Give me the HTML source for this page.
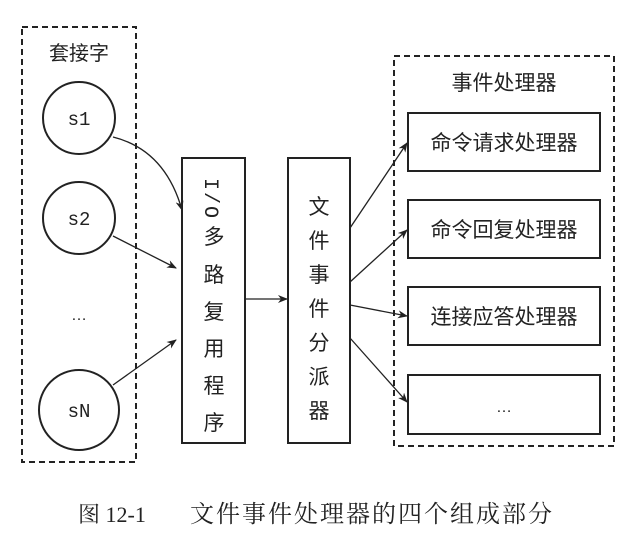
<!DOCTYPE html>
<html><head><style>
body{margin:0;background:#fff;}
svg{display:block}
text{font-family:"Liberation Sans","Noto Sans CJK SC",sans-serif;fill:#222}
.m{font-family:"Liberation Mono",monospace}
.s{font-family:"Liberation Serif","Noto Serif CJK SC",serif}
</style></head><body>
<svg width="636" height="550" viewBox="0 0 636 550">
<defs><marker id="a" markerWidth="10" markerHeight="8" refX="9" refY="4" orient="auto" markerUnits="userSpaceOnUse"><path d="M0,0 L10,4 L0,8 L3,4z" fill="#222"/></marker></defs>
<g fill="none" stroke="#222" stroke-width="2">
<rect x="22" y="27" width="114" height="435" stroke-dasharray="6,4"/>
<rect x="394" y="56" width="220" height="390" stroke-dasharray="6,4"/>
<circle cx="79" cy="118" r="36"/>
<circle cx="79" cy="218" r="36"/>
<circle cx="79" cy="410" r="40"/>
<rect x="182" y="158" width="63" height="285"/>
<rect x="288" y="158" width="62" height="285"/>
<rect x="408" y="113" width="192" height="58"/>
<rect x="408" y="200" width="192" height="58"/>
<rect x="408" y="287" width="192" height="58"/>
<rect x="408" y="375" width="192" height="59"/>
</g>
<g fill="none" stroke="#222" stroke-width="1.3" marker-end="url(#a)">
<path d="M113,137 Q165,150 182,210"/>
<line x1="113" y1="236" x2="176" y2="268"/>
<line x1="113" y1="385" x2="176" y2="340"/>
<line x1="245" y1="299" x2="287" y2="299"/>
<line x1="350" y1="228" x2="407" y2="143"/>
<line x1="350" y1="282" x2="407" y2="230"/>
<line x1="350" y1="305" x2="407" y2="316"/>
<line x1="350" y1="338" x2="407" y2="402"/>
</g>
<text x="79" y="60" font-size="20" text-anchor="middle">套接字</text>
<text class="m" x="79" y="125" font-size="19" text-anchor="middle">s1</text>
<text class="m" x="79" y="225" font-size="19" text-anchor="middle">s2</text>
<text class="m" x="79" y="417" font-size="19" text-anchor="middle">sN</text>
<text x="79" y="320" font-size="16" text-anchor="middle">…</text>
<text class="m" x="0" y="0" font-size="20" letter-spacing="2" transform="translate(205,178) rotate(90)">I/O</text>
<g font-size="21" text-anchor="middle">
<text x="214" y="244">多</text><text x="214" y="282">路</text><text x="214" y="319">复</text><text x="214" y="356">用</text><text x="214" y="393">程</text><text x="214" y="430">序</text>
<text x="319" y="214">文</text><text x="319" y="248">件</text><text x="319" y="282">事</text><text x="319" y="316">件</text><text x="319" y="350">分</text><text x="319" y="384">派</text><text x="319" y="418">器</text>
</g>
<g font-size="21" text-anchor="middle">
<text x="504" y="90">事件处理器</text>
<text x="504" y="150">命令请求处理器</text>
<text x="504" y="237">命令回复处理器</text>
<text x="504" y="324">连接应答处理器</text>
<text x="504" y="412" font-size="16">…</text>
</g>
<text class="s" x="78" y="522" font-size="22">图 12-1</text>
<text class="s" x="190" y="522" font-size="24" letter-spacing="2">文件事件处理器的四个组成部分</text>
</svg>
</body></html>
